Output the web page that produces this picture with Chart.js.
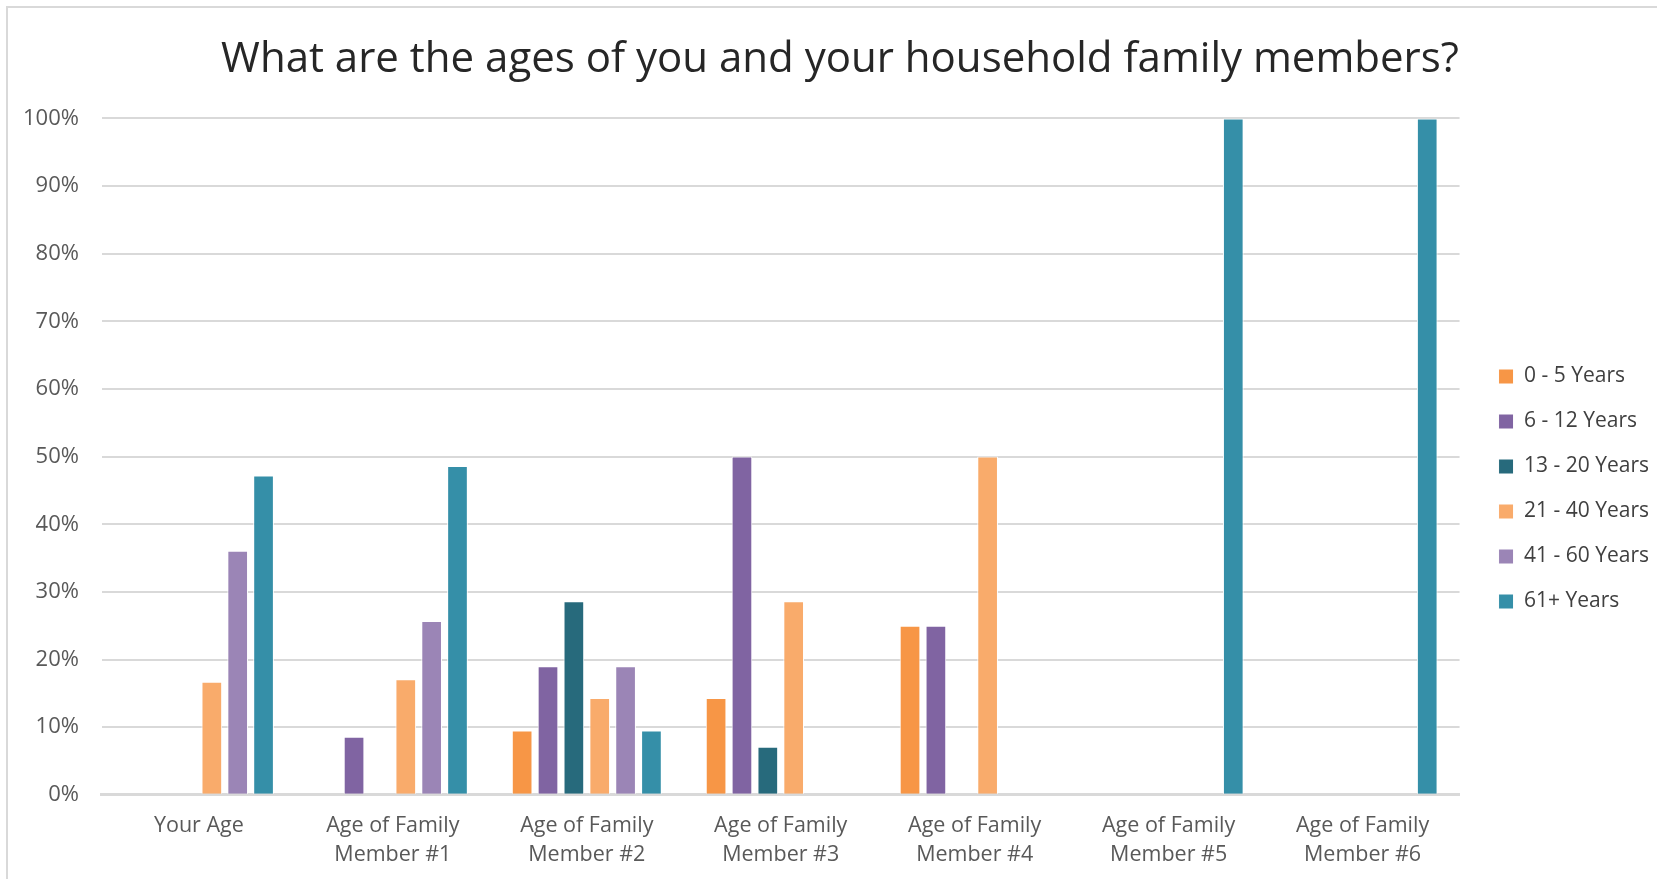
<!DOCTYPE html>
<html>
<head>
<meta charset="utf-8">
<script src="https://cdn.jsdelivr.net/npm/chart.js@4.4.1/dist/chart.umd.min.js"></script>
<style>
    html, body { margin: 0; padding: 0; background: #ffffff; overflow: hidden; }
    #frame { position: absolute; left: 6px; top: 6px; width: 1720px; height: 920px; border: 2px solid #d9d9d9; }
    #wrap { position: absolute; left: 0; top: 0; width: 1657px; height: 879px; }
</style>
</head>
<body>
<div id="frame"></div>
<div id="wrap"><canvas id="chart"></canvas></div>
<script>
// categories (axe X)
const categories = [
    'Your Age',
    ['Age of Family', 'Member #1'],
    ['Age of Family', 'Member #2'],
    ['Age of Family', 'Member #3'],
    ['Age of Family', 'Member #4'],
    ['Age of Family', 'Member #5'],
    ['Age of Family', 'Member #6']
];

// tranches d'âge (séries)
const seriesNames = ['0 - 5 Years', '6 - 12 Years', '13 - 20 Years', '21 - 40 Years', '41 - 60 Years', '61+ Years'];

// valeurs en %
const age0to5   = [0, 0, 9.5, 14.3, 25, 0, 0];
const age6to12  = [0, 8.6, 19.0, 50, 25, 0, 0];
const age13to20 = [0, 0, 28.6, 7.1, 0, 0, 0];
const age21to40 = [16.7, 17.1, 14.3, 28.6, 50, 0, 0];
const age41to60 = [36.1, 25.7, 19.0, 0, 0, 0, 0];
const age61plus = [47.2, 48.6, 9.5, 0, 0, 100, 100];

const seriesColors = ['#f79646', '#8064a2', '#276a7c', '#f9ab6b', '#9b85b6', '#358fa8'];

const yTicks = [0, 10, 20, 30, 40, 50, 60, 70, 80, 90, 100];

const allSeries = [age0to5, age6to12, age13to20, age21to40, age41to60, age61plus];

const FONT = "'Open Sans', 'Noto Sans', sans-serif";

// Décale la légende et le titre vers la droite après le calcul du layout
const shiftBoxes = {
    id: 'shiftBoxes',
    afterLayout(chart) {
        chart.legend.left += 15;
        chart.legend.right += 15;
        if (chart.titleBlock) {
            chart.titleBlock.left += 18;
            chart.titleBlock.right += 18;
        }
    }
};

new Chart(document.getElementById('chart'), {
    type: 'bar',
    data: {
        labels: categories,
        datasets: allSeries.map((values, i) => ({
            label: seriesNames[i],
            data: values,
            backgroundColor: seriesColors[i],
            borderColor: '#ffffff',
            borderWidth: 1,
            barPercentage: 0.8,
            categoryPercentage: 0.8
        }))
    },
    options: {
        responsive: true,
        maintainAspectRatio: false,
        animation: false,
        layout: { padding: { left: 0, right: 13, top: 14, bottom: -7 } },
        plugins: {
            title: {
                display: true,
                text: 'What are the ages of you and your household family members?',
                color: '#262626',
                font: { family: FONT, size: 42, weight: 'normal' },
                padding: { top: 21, bottom: 33 }
            },
            legend: {
                position: 'right',
                align: 'center',
                // titre vide : sert juste à descendre la légende
                title: { display: true, text: '', font: { size: 10 }, padding: { top: 66, bottom: 0 } },
                labels: {
                    color: '#404040',
                    font: { family: FONT, size: 21 },
                    boxWidth: 15,
                    boxHeight: 15,
                    padding: 24
                }
            },
            tooltip: { enabled: false }
        },
        scales: {
            y: {
                min: 0,
                max: 100,
                afterBuildTicks: axis => { axis.ticks = yTicks.map(v => ({ value: v })); },
                ticks: {
                    color: '#595959',
                    font: { family: FONT, size: 22 },
                    padding: 23,
                    callback: v => v + '%'
                },
                grid: { color: '#d9d9d9', lineWidth: 2, drawTicks: false },
                border: { display: false }
            },
            x: {
                ticks: {
                    color: '#595959',
                    font: { family: FONT, size: 21.5, lineHeight: 1.33 },
                    padding: 17,
                    maxRotation: 0,
                    autoSkip: false
                },
                grid: { display: false, drawTicks: false },
                border: { display: true, color: '#d9d9d9', width: 3 }
            }
        }
    },
    plugins: [shiftBoxes]
});
</script>
</body>
</html>
